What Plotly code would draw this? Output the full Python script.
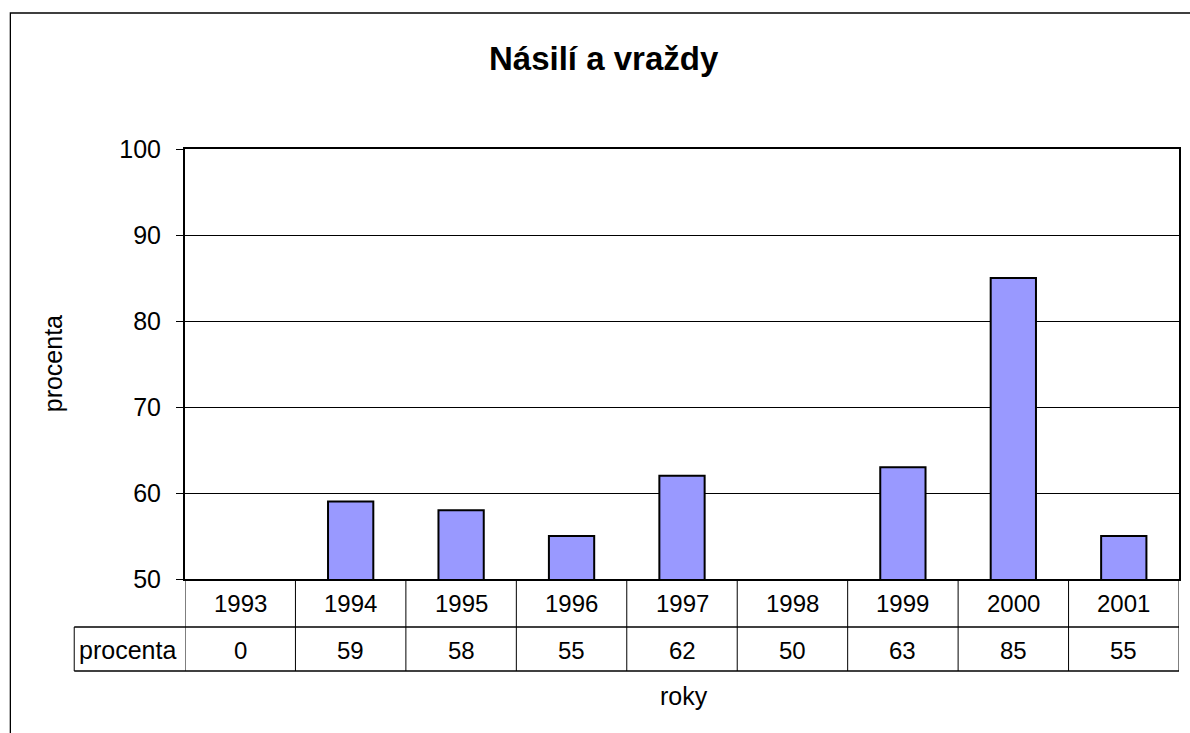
import plotly.graph_objects as go

# Data
years = ["1993", "1994", "1995", "1996", "1997", "1998", "1999", "2000", "2001"]
values = [0, 59, 58, 55, 62, 50, 63, 85, 55]
series_name = "procenta"
chart_title = "Násilí a vraždy"
y_title = "procenta"
x_title = "roky"
y_ticks = [50, 60, 70, 80, 90, 100]
y_min, y_max = 50, 100

# Canvas and plot-area geometry (pixels)
W, H = 1190, 733
L, R, T, B = 185, 9, 149, 154
plot_w = W - L - R
plot_h = H - T - B

FONT = "Liberation Sans, Arial, sans-serif"
LINE = "black"


def py(pix):
    """paper y from a pixel row"""
    return (H - B - pix) / plot_h


def px(pix):
    """paper x from a pixel column"""
    return (pix - L) / plot_w


fig = go.Figure()
fig.add_trace(go.Bar(
    x=list(range(len(years))),
    y=values,
    name=series_name,
    width=0.41,
    marker=dict(color="#9999FF",
                line=dict(color="black",
                          width=[2 if v > y_min else 0 for v in values])),
    showlegend=False,
    hovertext=years,
    hoverinfo="text+y",
))

shapes = []
# data-table grid: vertical separators between categories
for k in range(len(years) + 1):
    shapes.append(dict(type="line", xref="x", yref="paper",
                       x0=k - 0.5, x1=k - 0.5, y0=0, y1=py(671),
                       line=dict(color=LINE, width=1)))
# series label cell on the left
shapes.append(dict(type="line", xref="paper", yref="paper",
                   x0=px(74), x1=px(74), y0=py(627), y1=py(671),
                   line=dict(color=LINE, width=1)))
# horizontal rows of the table
for yy in (627, 671):
    shapes.append(dict(type="line", xref="paper", yref="paper",
                       x0=px(74), x1=1, y0=py(yy), y1=py(yy),
                       line=dict(color=LINE, width=1.3)))
# chart-area frame (left and top edges)
shapes.append(dict(type="path", xref="paper", yref="paper",
                   path=f"M {px(10)},{py(740)} L {px(10)},{py(13)} L {px(1200)},{py(13)}",
                   line=dict(color=LINE, width=1.3)))

annotations = []
for i, (yr, v) in enumerate(zip(years, values)):
    annotations.append(dict(x=i, y=py(603), xref="x", yref="paper", text=yr,
                            showarrow=False, font=dict(size=24, color="black"),
                            xanchor="center", yanchor="middle"))
    annotations.append(dict(x=i, y=py(650), xref="x", yref="paper", text=str(v),
                            showarrow=False, font=dict(size=24, color="black"),
                            xanchor="center", yanchor="middle"))
annotations.append(dict(x=px(127), y=py(650), xref="paper", yref="paper",
                        text=series_name, showarrow=False,
                        font=dict(size=25, color="black"),
                        xanchor="center", yanchor="middle"))
# chart title
annotations.append(dict(x=px(605), y=py(58), xref="paper", yref="paper",
                        text=f"<b>{chart_title}</b>", showarrow=False,
                        font=dict(size=33, color="black"),
                        xanchor="center", yanchor="middle"))
# axis titles
annotations.append(dict(x=px(53), y=py(364), xref="paper", yref="paper",
                        text=y_title, showarrow=False, textangle=-90,
                        font=dict(size=25, color="black"),
                        xanchor="center", yanchor="middle"))
annotations.append(dict(x=px(685), y=py(696), xref="paper", yref="paper",
                        text=x_title, showarrow=False,
                        font=dict(size=25, color="black"),
                        xanchor="center", yanchor="middle"))

fig.update_layout(
    width=W, height=H,
    margin=dict(l=L, r=R, t=T, b=B, pad=0),
    paper_bgcolor="white",
    plot_bgcolor="white",
    font=dict(family=FONT, color="black"),
    shapes=shapes,
    annotations=annotations,
    xaxis=dict(
        range=[-0.5, len(years) - 0.5],
        showticklabels=False,
        ticks="",
        showgrid=False,
        showline=True, mirror=True, linecolor="black", linewidth=2,
        zeroline=False,
    ),
    yaxis=dict(
        range=[y_min, y_max],
        tickvals=y_ticks,
        ticks="outside", ticklen=7, tickwidth=1, tickcolor="black",
        tickfont=dict(size=25, color="black"),
        ticklabelstandoff=10,
        showgrid=True, gridcolor="black", gridwidth=1,
        showline=True, mirror=True, linecolor="black", linewidth=2,
        zeroline=False,
    ),
)

fig.write_html("out.html")
